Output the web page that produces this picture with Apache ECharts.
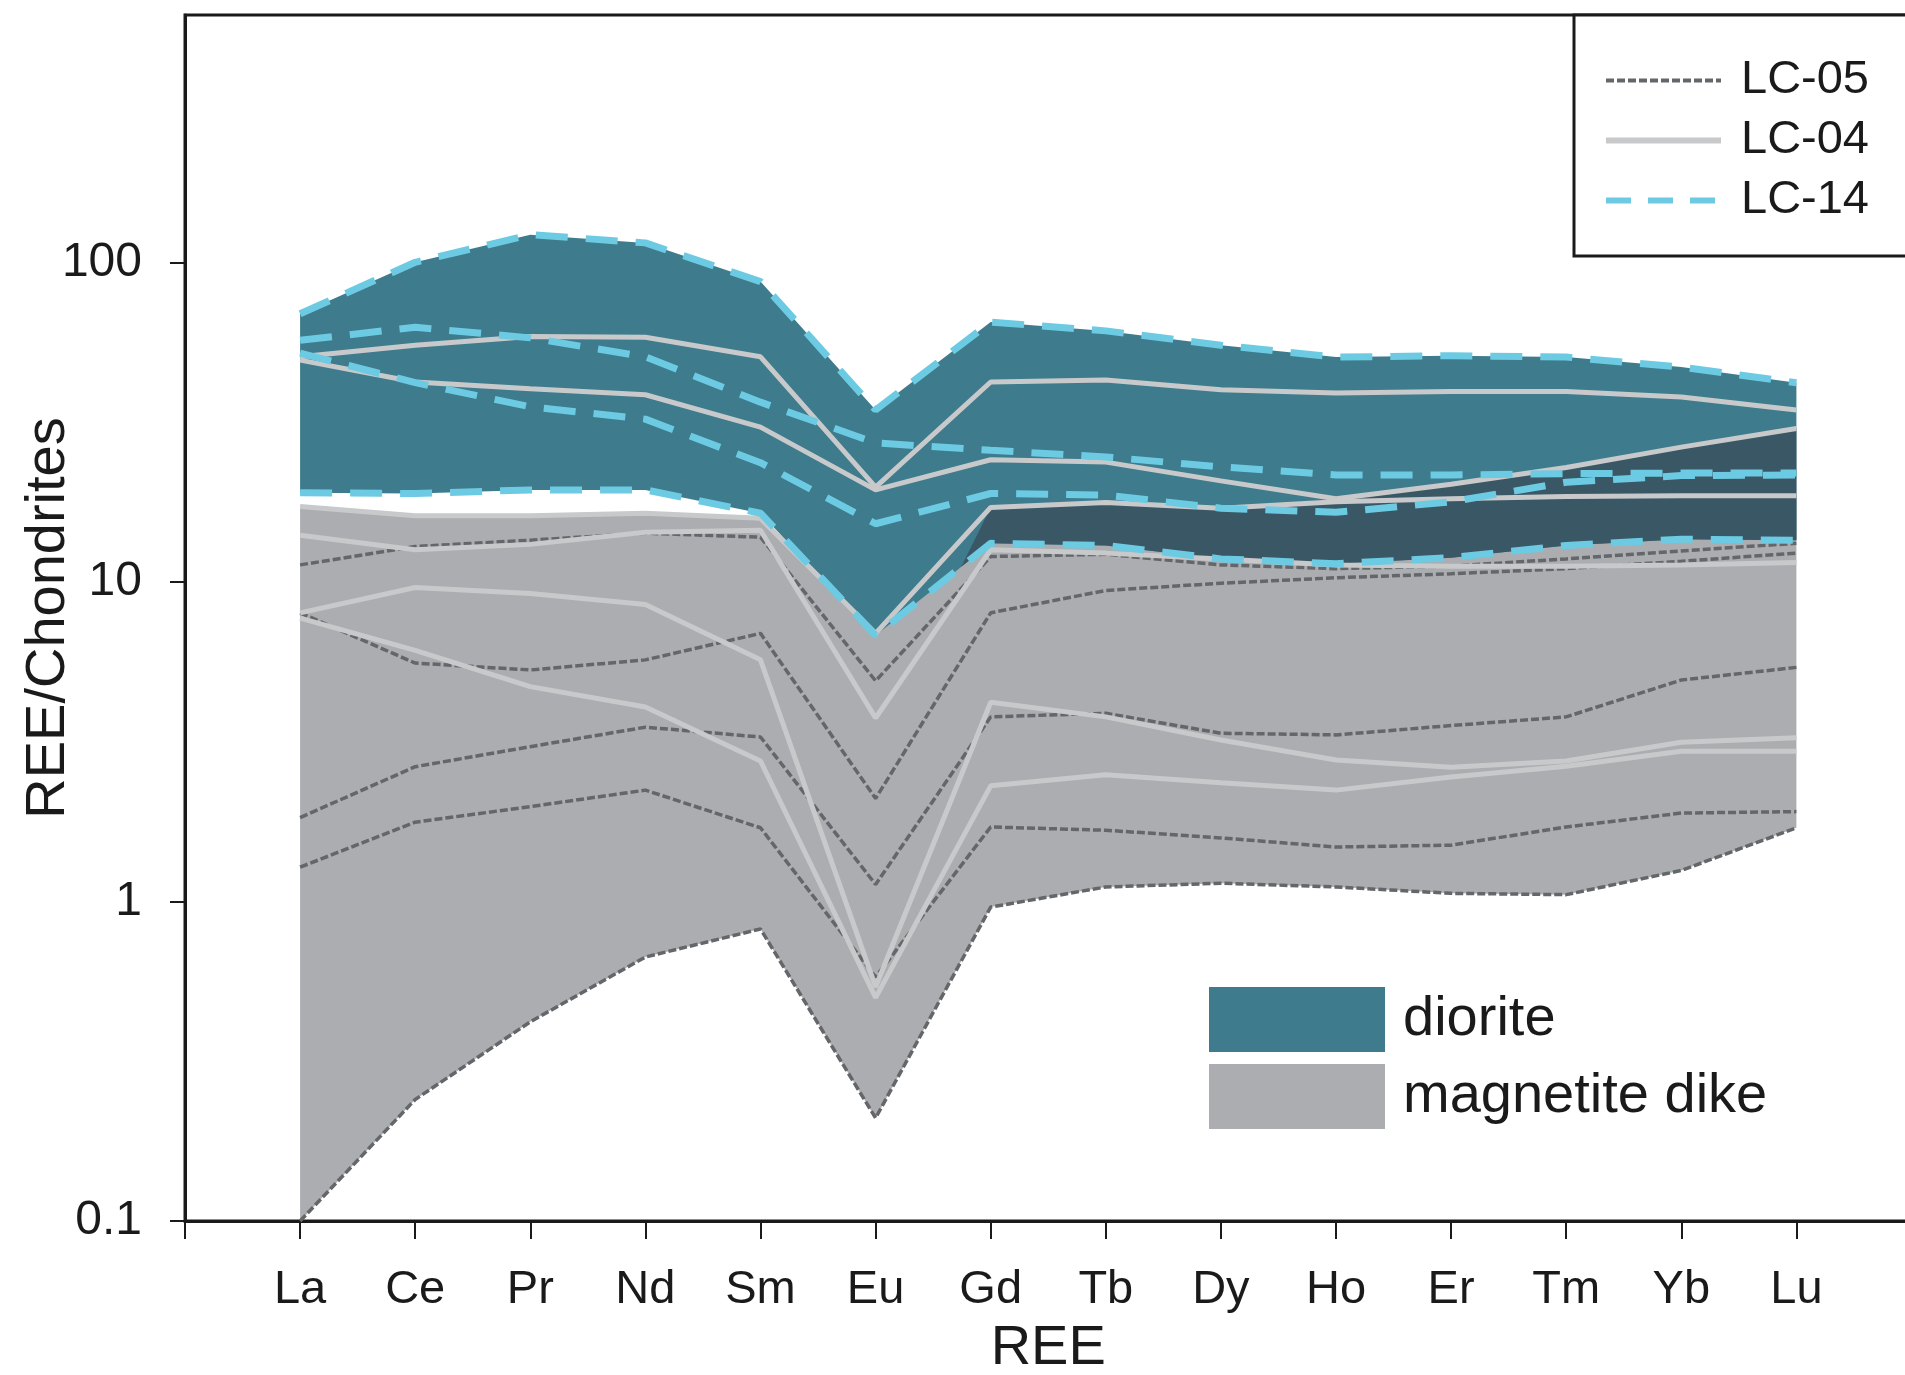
<!DOCTYPE html>
<html>
<head>
<meta charset="utf-8">
<script src="https://cdn.jsdelivr.net/npm/echarts@6/dist/echarts.min.js"></script>
<style>
html,body{margin:0;padding:0;background:#fff;}
#chart{width:1905px;height:1375px;}
</style>
</head>
<body>
<div id="chart"></div>
<script>
// ---------- data (REE / chondrite) ----------
var categories = ['La','Ce','Pr','Nd','Sm','Eu','Gd','Tb','Dy','Ho','Er','Tm','Yb','Lu'];
var yTicks = [0.1, 1, 10, 100];

// LC-14 (diorite), dashed cyan
var lc14_a = [69, 100, 122, 115, 87, 34.5, 65, 61, 55, 50.5, 51, 50.5, 47, 42];
var lc14_b = [57, 62.6, 58, 50.6, 36.5, 27.2, 25.8, 24.6, 22.9, 21.6, 21.6, 21.8, 21.9, 21.9];
var lc14_c = [52, 42, 35.3, 32.3, 23.6, 15.2, 18.9, 18.7, 17.0, 16.5, 17.8, 20.5, 21.5, 21.6];
var lc14_d = [19.0, 18.9, 19.4, 19.4, 16.4, 6.8, 13.2, 13.0, 11.8, 11.4, 11.9, 13.0, 13.6, 13.5];

// LC-04, solid light grey
var lc04_a = [50.6, 55, 58.6, 58.3, 50.6, 19.8, 42.2, 42.8, 39.9, 39, 39.4, 39.4, 37.9, 34.5];
var lc04_b = [49.4, 42.2, 40.2, 38.5, 30.5, 19.4, 24.1, 23.7, 20.7, 18.2, 20.2, 22.8, 26.4, 30.2];
var lc04_c = [17.2, 16.1, 16.1, 16.4, 15.8, 6.9, 17.1, 17.7, 17.0, 17.8, 18.2, 18.5, 18.6, 18.6];
var lc04_d = [14.0, 12.6, 13.1, 14.3, 14.5, 3.75, 12.6, 12.3, 11.8, 11.3, 11.2, 11.2, 11.3, 11.5];
var lc04_e = [8.0, 9.6, 9.2, 8.5, 5.7, 0.54, 4.2, 3.78, 3.2, 2.77, 2.63, 2.75, 3.15, 3.25];
var lc04_f = [7.7, 6.1, 4.7, 4.06, 2.75, 0.50, 2.30, 2.49, 2.35, 2.23, 2.45, 2.65, 2.95, 2.95];

// LC-05, dotted dark grey
var lc05_a = [11.3, 12.9, 13.5, 14.2, 13.8, 4.9, 12.0, 12.2, 11.3, 11.0, 11.2, 11.8, 12.5, 13.2];
var lc05_b = [8.0, 5.57, 5.3, 5.7, 6.9, 2.1, 8.0, 9.4, 9.9, 10.3, 10.6, 11.0, 11.6, 12.3];
var lc05_c = [1.83, 2.64, 3.05, 3.51, 3.27, 1.13, 3.78, 3.88, 3.36, 3.32, 3.55, 3.78, 4.93, 5.4];
var lc05_d = [1.28, 1.77, 1.98, 2.23, 1.70, 0.58, 1.71, 1.67, 1.58, 1.48, 1.50, 1.71, 1.89, 1.91];
var lc05_e = [0.10, 0.24, 0.42, 0.67, 0.82, 0.21, 0.96, 1.11, 1.14, 1.11, 1.06, 1.05, 1.25, 1.70];

// field envelopes
var dioriteTop = lc14_a, dioriteBottom = lc14_d;
var magnetiteTop = lc04_c, magnetiteBottom = lc05_e;
// darker overlap band (upper edge), drawn where it lies above the diorite floor
var overlapTop = [null, null, null, null, null, 3.2, 17.1, 17.7, 17.0, 18.2, 20.2, 22.8, 26.4, 30.2];

// ---------- styles ----------
var C_TEAL = '#3e7b8c', C_DARK = '#3a5765', C_GREY = '#abadb0';
var C_CYAN = '#6ccbe2', C_LIGHT = '#c8c9cb', C_DOT = '#63676a';
var FONT = '"Liberation Sans", Arial, Helvetica, sans-serif';

function xy(arr) { return arr.map(function (v, i) { return [i + 1, v]; }); }

function fieldSeries(name, top, bottom, color) {
  return {
    name: name, type: 'custom', coordinateSystem: 'cartesian2d',
    data: [[1, 1]], silent: true, z: 1,
    itemStyle: {color: color},
    renderItem: function (params, api) {
      var pts = [];
      for (var i = 0; i < top.length; i++) pts.push(api.coord([i + 1, top[i]]));
      for (var j = bottom.length - 1; j >= 0; j--) pts.push(api.coord([j + 1, bottom[j]]));
      return {type: 'polygon', shape: {points: pts}, style: {fill: color}};
    }
  };
}

function overlapSeries(top, bottom, color) {
  return {
    type: 'custom', coordinateSystem: 'cartesian2d', data: [[1, 1]], silent: true, z: 1,
    renderItem: function (params, api) {
      var polys = [], up = [], lo = [];
      function flush() { if (up.length > 1) polys.push(up.concat(lo.slice().reverse())); up = []; lo = []; }
      for (var i = 0; i < top.length; i++) {
        if (top[i] == null) { flush(); continue; }
        var pt = api.coord([i + 1, top[i]]), pb = api.coord([i + 1, bottom[i]]);
        var inside = pt[1] < pb[1];
        if (i > 0 && top[i - 1] != null) {
          var qt = api.coord([i, top[i - 1]]), qb = api.coord([i, bottom[i - 1]]);
          var prevInside = qt[1] < qb[1];
          if (inside !== prevInside) {
            var d0 = qb[1] - qt[1], d1 = pb[1] - pt[1];
            var t = d0 / (d0 - d1);
            var p = [qt[0] + t * (pt[0] - qt[0]), qt[1] + t * (pt[1] - qt[1])];
            up.push(p); lo.push(p);
            if (!inside) flush();
          }
        }
        if (inside) { up.push(pt); lo.push(pb); }
      }
      flush();
      return {type: 'group', children: polys.map(function (ps) {
        return {type: 'polygon', shape: {points: ps}, style: {fill: color}};
      })};
    }
  };
}

var DOT_STYLE = {color: C_DOT, width: 3.5, type: [8, 3]};
var SOLID_STYLE = {color: C_LIGHT, width: 5, type: 'solid'};
var DASH_STYLE = {color: C_CYAN, width: 7, type: [32, 18]};

function lineSeries(name, arr, style) {
  return {
    name: name, type: 'line', data: xy(arr), symbol: 'none', silent: true, z: 3,
    lineStyle: {color: style.color, width: style.width, type: style.type},
    itemStyle: {color: style.color}
  };
}

var series = [
  fieldSeries('magnetite dike', magnetiteTop, magnetiteBottom, C_GREY),
  fieldSeries('diorite', dioriteTop, dioriteBottom, C_TEAL),
  overlapSeries(overlapTop, dioriteBottom, C_DARK)
];
[lc05_a, lc05_b, lc05_c, lc05_d, lc05_e].forEach(function (a) { series.push(lineSeries('LC-05', a, DOT_STYLE)); });
[lc04_d, lc04_e, lc04_f, lc04_c, lc04_a, lc04_b].forEach(function (a) { series.push(lineSeries('LC-04', a, SOLID_STYLE)); });
[lc14_a, lc14_b, lc14_c, lc14_d].forEach(function (a) { series.push(lineSeries('LC-14', a, DASH_STYLE)); });

var hiddenSymbol = {opacity: 0, borderWidth: 0};

var chart = echarts.init(document.getElementById('chart'), null, {renderer: 'canvas'});
chart.setOption({
  animation: false,
  backgroundColor: '#fff',
  textStyle: {fontFamily: FONT},
  grid: {left: 185, top: 15, width: 1726.5, height: 1206, show: true, borderColor: '#1a1a1a', borderWidth: 3,
         backgroundColor: 'transparent', containLabel: false, outerBoundsMode: 'none'},
  xAxis: {
    type: 'value', min: 0, max: 15, interval: 1,
    name: 'REE', nameLocation: 'middle', nameGap: 100, nameMoveOverlap: false,
    nameTextStyle: {fontSize: 56, color: '#1a1a1a', fontFamily: FONT},
    axisLine: {lineStyle: {color: '#1a1a1a', width: 3}},
    axisTick: {show: true, length: 18, lineStyle: {color: '#1a1a1a', width: 2}},
    axisLabel: {
      fontSize: 47, color: '#1a1a1a', margin: 46, fontFamily: FONT,
      formatter: function (v) { var i = Math.round(v) - 1; return (i >= 0 && i < categories.length) ? categories[i] : ''; }
    },
    splitLine: {show: false}
  },
  yAxis: {
    type: 'log', logBase: 10, min: 0.1, max: 594,
    name: 'REE/Chondrites', nameLocation: 'middle', nameGap: 108, nameRotate: 90, nameMoveOverlap: false,
    nameTextStyle: {fontSize: 56, color: '#1a1a1a', fontFamily: FONT},
    axisLine: {lineStyle: {color: '#1a1a1a', width: 3}},
    axisTick: {show: true, length: 15, customValues: yTicks, lineStyle: {color: '#1a1a1a', width: 2}},
    axisLabel: {
      fontSize: 48, color: '#1a1a1a', margin: 43, fontFamily: FONT, customValues: yTicks,
      formatter: function (v) {
        var r = Number(Number(v).toPrecision(3));
        return yTicks.indexOf(r) >= 0 ? String(r) : '';
      }
    },
    splitLine: {show: false},
    minorTick: {show: false}
  },
  legend: [
    {
      orient: 'vertical', left: 1603, top: 57, padding: 0, itemGap: 13,
      itemWidth: 115, itemHeight: 10, selectedMode: false, z: 10,
      textStyle: {fontSize: 47, lineHeight: 47, color: '#1a1a1a', fontFamily: FONT, padding: [0, 0, 0, 15]},
      data: [
        {name: 'LC-05', itemStyle: hiddenSymbol, lineStyle: {color: C_DOT, width: 4, type: [8, 3]}},
        {name: 'LC-04', itemStyle: hiddenSymbol, lineStyle: {color: C_LIGHT, width: 6, type: 'solid'}},
        {name: 'LC-14', itemStyle: hiddenSymbol, lineStyle: {color: C_CYAN, width: 6, type: [25, 17]}}
      ]
    },
    {
      orient: 'vertical', left: 1209, top: 987, padding: 0, itemGap: 12,
      itemWidth: 176, itemHeight: 65, selectedMode: false, z: 10,
      textStyle: {fontSize: 56, lineHeight: 56, color: '#1a1a1a', fontFamily: FONT, padding: [0, 0, 0, 13]},
      data: [
        {name: 'diorite', icon: 'rect', itemStyle: {color: C_TEAL}},
        {name: 'magnetite dike', icon: 'rect', itemStyle: {color: C_GREY}}
      ]
    }
  ],
  graphic: [
    {type: 'rect', z: 5, silent: true, shape: {x: 1574, y: 15, width: 420, height: 241},
     style: {fill: '#fff', stroke: '#1a1a1a', lineWidth: 3}}
  ],
  series: series
});
</script>
</body>
</html>
